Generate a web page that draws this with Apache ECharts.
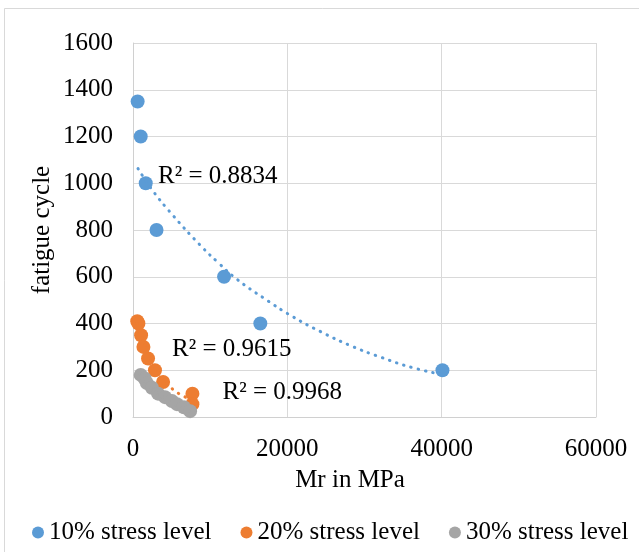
<!DOCTYPE html>
<html>
<head>
<meta charset="utf-8">
<script src="https://cdn.jsdelivr.net/npm/echarts@6/dist/echarts.min.js"></script>
<style>
  html, body { margin: 0; padding: 0; background: #fff; }
  #chart { width: 639px; height: 552px; }
</style>
</head>
<body>
<div id="chart"></div>
<script>
// values: [Mr in MPa, fatigue cycle]
const seriesNames = ["10% stress level", "20% stress level", "30% stress level"];
const stress10 = [[600, 1350], [1000, 1200], [1650, 1000], [3050, 800], [11800, 600], [16500, 400], [40100, 200]];
const stress20 = [[550, 410], [700, 400], [1050, 350], [1350, 300], [1950, 250], [2850, 200], [3900, 150], [7700, 100], [7700, 55]];
const stress30 = [[1000, 180], [1500, 165], [1800, 145], [2450, 125], [3250, 100], [4150, 85], [5050, 68], [5700, 55], [6600, 42], [7400, 25]];

// dotted trendlines
const trend10 = [[650, 1063], [2500, 971], [5140, 864], [8680, 736], [11050, 660], [13440, 590], [16980, 508], [20560, 432], [24320, 365], [28210, 305], [32180, 255], [36240, 211], [40100, 182]];
const trend20 = [[550, 400], [1500, 310], [2500, 235], [3500, 180], [4500, 140], [5500, 110], [6500, 90], [7700, 70]];
const trend30 = [[1000, 175], [2000, 135], [3000, 105], [4000, 82], [5000, 62], [6000, 45], [7400, 25]];

// R² labels, anchored at their left edge in data units
const r2Labels = ["R² = 0.8834", "R² = 0.9615", "R² = 0.9968"];
const r2Anchors = [[3240, 1030], [5050, 287], [11600, 105]];

const xTicks = { min: 0, max: 60000, interval: 20000 };
const yTicks = { min: 0, max: 1600, interval: 200 };

const colors = ["#5B9BD5", "#ED7D31", "#A5A5A5"];
const font = "'Liberation Serif', 'Times New Roman', serif";
const fontSize = 25;

const chart = echarts.init(document.getElementById("chart"));

function scatter(name, data, color) {
  return {
    name: name,
    type: "scatter",
    data: data,
    symbol: "circle",
    symbolSize: 14,
    itemStyle: { color: color, opacity: 1 },
    z: 3
  };
}

function trend(data, color, idx) {
  return {
    type: "line",
    data: data,
    smooth: true,
    symbol: "none",
    silent: true,
    lineStyle: { color: color, width: 3, type: [0.5, 7], cap: "round" },
    z: 4,
    markPoint: {
      symbol: "circle",
      symbolSize: 0,
      silent: true,
      data: [{
        coord: r2Anchors[idx],
        label: {
          show: true,
          position: "right",
          distance: 0,
          formatter: r2Labels[idx],
          color: "#000",
          fontFamily: font,
          fontSize: fontSize
        }
      }]
    }
  };
}

const plain = v => String(v);

const option = {
  animation: false,
  backgroundColor: "#fff",
  color: colors,
  grid: { left: 133, top: 43, right: 43, bottom: 135 },
  legend: {
    data: seriesNames,
    left: 32,
    top: 520,
    width: 605,
    padding: 0,
    icon: "circle",
    itemWidth: 12,
    itemHeight: 12,
    itemGap: 29,
    textStyle: { color: "#000", fontFamily: font, fontSize: fontSize }
  },
  xAxis: {
    type: "value",
    min: xTicks.min,
    max: xTicks.max,
    interval: xTicks.interval,
    name: "Mr in MPa",
    nameLocation: "middle",
    nameGap: 51,
    nameMoveOverlap: false,
    nameTextStyle: { color: "#000", fontFamily: font, fontSize: fontSize, padding: [0, 29, 0, 0] },
    axisLine: { show: true, lineStyle: { color: "#D0D0D0", width: 1 } },
    axisTick: { show: false },
    axisLabel: { color: "#000", fontFamily: font, fontSize: fontSize, margin: 20, formatter: plain },
    splitLine: { show: true, lineStyle: { color: "#D9D9D9", width: 1 } }
  },
  yAxis: {
    type: "value",
    min: yTicks.min,
    max: yTicks.max,
    interval: yTicks.interval,
    name: "fatigue cycle",
    nameLocation: "middle",
    nameGap: 78,
    nameMoveOverlap: false,
    nameTextStyle: { color: "#000", fontFamily: font, fontSize: fontSize },
    axisLine: { show: true, lineStyle: { color: "#D0D0D0", width: 1 } },
    axisTick: { show: false },
    axisLabel: { color: "#000", fontFamily: font, fontSize: fontSize, margin: 20, formatter: plain },
    splitLine: { show: true, lineStyle: { color: "#D9D9D9", width: 1 } }
  },
  graphic: [{
    type: "rect",
    silent: true,
    shape: { x: 4.5, y: 8.5, width: 640, height: 560 },
    style: { fill: "none", stroke: "#D9D9D9", lineWidth: 1 }
  }],
  series: [
    scatter(seriesNames[0], stress10, colors[0]),
    scatter(seriesNames[1], stress20, colors[1]),
    scatter(seriesNames[2], stress30, colors[2]),
    trend(trend10, colors[0], 0),
    trend(trend20, colors[1], 1),
    trend(trend30, colors[2], 2)
  ]
};
chart.setOption(option);
</script>
</body>
</html>
